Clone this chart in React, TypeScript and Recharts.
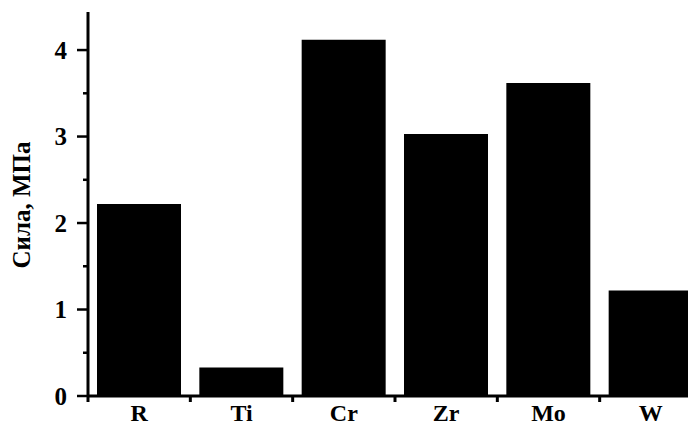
import React from "react";
import { BarChart, Bar, XAxis, YAxis } from "recharts";

const categories = ["R", "Ti", "Cr", "Zr", "Mo", "W"];
const strengths = [2.22, 0.33, 4.12, 3.03, 3.62, 1.22];
const yTicks = [0, 0.5, 1, 1.5, 2, 2.5, 3, 3.5, 4];

const data = categories.map((name, i) => ({ name, value: strengths[i] }));

const FONT = "'Liberation Serif', 'Times New Roman', serif";
const W = 702;
const H = 426;
const LEFT = 88;
const PLOT_W = W - LEFT;
const BAND = PLOT_W / categories.length;

const YTick = (props: any) => {
  const { y, payload } = props;
  const v = payload.value;
  const major = Number.isInteger(v);
  const axisX = LEFT;
  return (
    <g>
      <line x1={axisX - (major ? 11 : 5)} x2={axisX} y1={y} y2={y} stroke="#000" strokeWidth={2.5} />
      {major && (
        <text x={axisX - 21} y={y} dy={8.5} textAnchor="end" fontFamily={FONT} fontWeight="bold" fontSize={25} fill="#000">
          {v}
        </text>
      )}
    </g>
  );
};

const XTick = (props: any) => {
  const { x, y, payload } = props;
  return (
    <g>
      <line x1={x - BAND / 2} x2={x - BAND / 2} y1={y - 8} y2={y - 2} stroke="#000" strokeWidth={3} />
      <text x={x} y={y} dy={17} textAnchor="middle" fontFamily={FONT} fontWeight="bold" fontSize={24} fill="#000">
        {payload.value}
      </text>
    </g>
  );
};

const YLabel = () => (
  <text
    x={30}
    y={205}
    transform="rotate(-90, 30, 205)"
    textAnchor="middle"
    fontFamily={FONT}
    fontWeight="bold"
    fontSize={25}
    fill="#000"
  >
    Сила, МПа
  </text>
);

export default function App() {
  return (
    <div style={{ margin: "-8px 0 0 -8px", width: 696, height: H, overflow: "hidden", background: "#fff" }}>
      <BarChart
        width={W}
        height={H}
        data={data}
        margin={{ top: 12, right: 0, bottom: 0, left: 28 }}
        barSize={84}
      >
        <XAxis
          dataKey="name"
          height={30}
          axisLine={{ stroke: "#000", strokeWidth: 3 }}
          tickLine={false}
          tick={<XTick />}
          interval={0}
        />
        <YAxis
          width={60}
          domain={[0, 4.44]}
          ticks={yTicks}
          interval={0}
          axisLine={{ stroke: "#000", strokeWidth: 3 }}
          tickLine={false}
          tick={<YTick />}
          label={{ value: "Сила, МПа", content: () => <YLabel /> }}
        />
        <Bar dataKey="value" fill="#000" isAnimationActive={false} />
      </BarChart>
    </div>
  );
}
